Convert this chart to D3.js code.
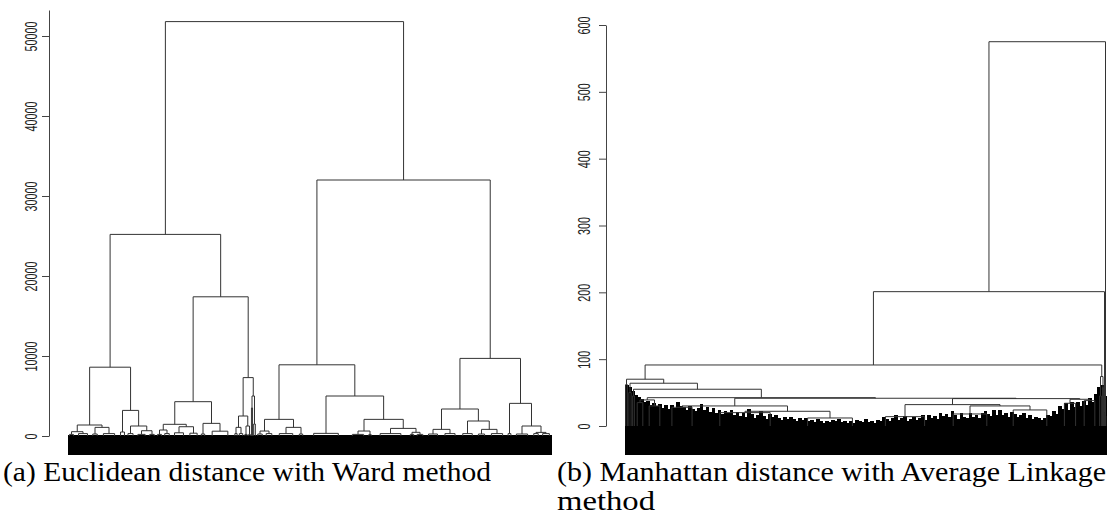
<!DOCTYPE html>
<html><head><meta charset="utf-8">
<script src="https://cdn.jsdelivr.net/npm/d3@7"></script>
<style>body{margin:0;background:#fff}svg{display:block}</style>
</head><body>
<svg id="c" width="1110" height="516"></svg>
<script>
// ---------- DATA ----------
// Panel (a): terminal leaf groups (number of leaves, internal height) in leaf order
const leftGroupSizes   = [7,16,8,20,7,9,13,8, 7,8,16,13,6,28,4,6,4,3,2,3, 8,10,24,6,44,20,4,37,6,10, 16,18,17,11,20,5,20,8,12];
const leftGroupHeights = [200,300,250,300,500,300,200,200, 200,300,400,350,250,600,300,300,200,200,3500,1500, 250,300,300,250,330,200,200,300,200,200, 250,300,300,250,300,300,250,300,300];
// merges (hclust style: negative = group, positive = earlier merge)
const leftMergeA = [-1,-3,1,-7,-6,-5,3,-9,-11,8,-13,10,-15,-17,13,-19,15,12,7,-21,-23,20,-26,-29,-28,23,-25,22,-31,-34,-33,29,-38,-37,-36,32,28,19];
const leftMergeB = [-2,-4,2,-8,4,5,6,-10,-12,9,-14,11,-16,-18,14,-20,16,17,18,-22,-24,21,-27,-30,24,25,26,27,-32,-35,30,31,-39,33,34,35,36,37];
const leftMergeHeights = [540,1080,1375,660,1250,3200,8600,750,1160,1460,1580,4290,1080,1250,2500,5000,7300,17400,25200,620,1080,2080,620,460,950,2080,5000,8900,830,830,1875,3375,450,1250,4080,9700,32000,51800];
const leftTicks = [0,10000,20000,30000,40000,50000];

// Panel (b)
const rightGroupSizes   = [3,4,3,10,19,36,90,80,70,60,60,20,19,3,2,1,1];
const rightGroupHeights = [62,50,45,35,30,28,20,12,14,18,24,34,38,45,58,20,15];
const rightMergeA = [-4,-7,-6,-10,-9,-12,5,3,1,-3,-2,-1,-14,12,14,15];
const rightMergeB = [-5,-8,2,-11,4,-13,6,7,8,9,10,11,-15,13,-16,-17];
const rightMergeHeights = [39,22,30,30,32,40,41,41.5,42.4,55,64,70,74,91.3,201,575];
// top of the dense leaf mass, left to right
const rightLeafProfile = [
 62,58,52,46,44, 40,36,38,32,35, 30,33,27,31,26, 32,27,36,30,28, 24,30,26,22,27,
 33,24,29,21,27, 19,24,18,23,20, 24,17,21,15,20, 14,25,18,12,17, 22,15,11,18,13,
 16,12,9,14,11, 13,10,8,12,9, 12,7,9,6,10, 8,5,7,6,9, 7,10,6,8,5,
 8,5,9,7,6, 11,6,8,5,9, 8,13,10,7,12, 16,9,12,15,8, 11,14,9,12,17,
 9,17,12,15,10, 20,15,18,13,22, 16,11,19,14,12, 19,14,17,12,20, 22,18,15,24,17,
 24,16,20,14,21, 18,13,16,19,12, 16,10,14,12,9, 12,17,15,22,18, 30,26,34,24,36,
 28,36,30,38,32, 42,36,48,58,62,45];
const rightTicks = [0,100,200,300,400,500,600];

const captionA = "(a) Euclidean distance with Ward method";
const captionB1 = "(b) Manhattan distance with Average Linkage";
const captionB2 = "method";

// ---------- DRAW ----------
const svg = d3.select("#c");
const LINE = "#333";

function build(sizes, heights, mA, mB, mH){
  let cum = 0;
  const groups = sizes.map((s,i)=>{const g={start:cum,end:cum+s,h:heights[i]};g.x=(g.start+g.end)/2;cum+=s;return g;});
  const nodes = [];
  const ref = k => k<0 ? groups[-k-1] : nodes[k-1];
  mA.forEach((a,i)=>{const ca=ref(a), cb=ref(mB[i]); nodes.push({a:ca,b:cb,h:mH[i],x:(ca.x+cb.x)/2});});
  return {groups,nodes,total:cum};
}

function drawTree(g, tree, x, y, bandBottom, profile){
  if (profile){
    const b = d3.scaleBand().domain(d3.range(profile.length)).range(x.range());
    g.selectAll("rect.p").data(profile).join("rect").attr("class","p")
      .attr("x", (d,i)=>b(i)).attr("width", b.bandwidth()+0.8)
      .attr("y", d=>y(d)).attr("height", d=>bandBottom - y(d)).attr("fill","#000")
      .attr("shape-rendering","crispEdges");
  } else {
    g.append("rect").attr("x", x(0)).attr("width", x(tree.total)-x(0))
      .attr("y", y(0)-1).attr("height", bandBottom-y(0)+1).attr("fill","#000");
  }
  g.selectAll("path.g").data(tree.groups).join("path").attr("class","g")
    .attr("d", d=>{const w=d.end-d.start, x0=x(d.start+w*0.22), x1=x(d.end-w*0.22);
      return `M${x0},${y(0)}V${y(d.h)}H${x1}V${y(0)}`;})
    .attr("fill","none").attr("stroke",LINE).attr("stroke-width",1);
  g.selectAll("path.m").data(tree.nodes).join("path").attr("class","m")
    .attr("d", d=>`M${x(d.a.x)},${y(d.a.h)}V${y(d.h)}H${x(d.b.x)}V${y(d.b.h)}`)
    .attr("fill","none").attr("stroke",LINE).attr("stroke-width",1);
}

function drawAxis(xPos, y, ticks, labelOffset){
  const ax = svg.append("g").attr("transform",`translate(${xPos},0)`)
    .call(d3.axisLeft(y).tickValues(ticks).tickSize(7).tickSizeOuter(0).tickFormat(d3.format("d")));
  ax.attr("font-size",null);
  ax.select(".domain").attr("stroke","#444");
  ax.selectAll(".tick line").attr("stroke","#444");
  ax.selectAll(".tick text")
    .attr("x",null).attr("dy",null)
    .attr("transform",`translate(${labelOffset},0) rotate(-90)`)
    .attr("text-anchor","middle")
    .style("font-family","Liberation Sans, Arial, sans-serif")
    .style("font-size","16.5px").attr("fill","#222")
    .attr("textLength", d=>String(d).length*6)
    .attr("lengthAdjust","spacingAndGlyphs");
}

const tL = build(leftGroupSizes,leftGroupHeights,leftMergeA,leftMergeB,leftMergeHeights);
const xL = d3.scaleLinear().domain([0,tL.total]).range([68,552]);
const yL = d3.scaleLinear().domain([0,53250]).range([436,10]);
drawTree(svg.append("g"), tL, xL, yL, 455, null);
drawAxis(49, yL, leftTicks, -12.3);

const tR = build(rightGroupSizes,rightGroupHeights,rightMergeA,rightMergeB,rightMergeHeights);
const xR = d3.scaleLinear().domain([0,tR.total]).range([625,1106]);
const yR = d3.scaleLinear().domain([0,600]).range([426,25]);
drawTree(svg.append("g"), tR, xR, yR, 455, rightLeafProfile);
drawAxis(606, yR, rightTicks, -16);

const cap = (t,x,yb,len)=>svg.append("text").text(t).attr("x",x).attr("y",yb)
  .style("font-family","Liberation Serif, Times New Roman, serif").style("font-size","28px")
  .attr("fill","#000").attr("textLength",len).attr("lengthAdjust","spacingAndGlyphs");
cap(captionA,3,481,488);
cap(captionB1,557,481,549);
cap(captionB2,557,510,98);
</script>
</body></html>
